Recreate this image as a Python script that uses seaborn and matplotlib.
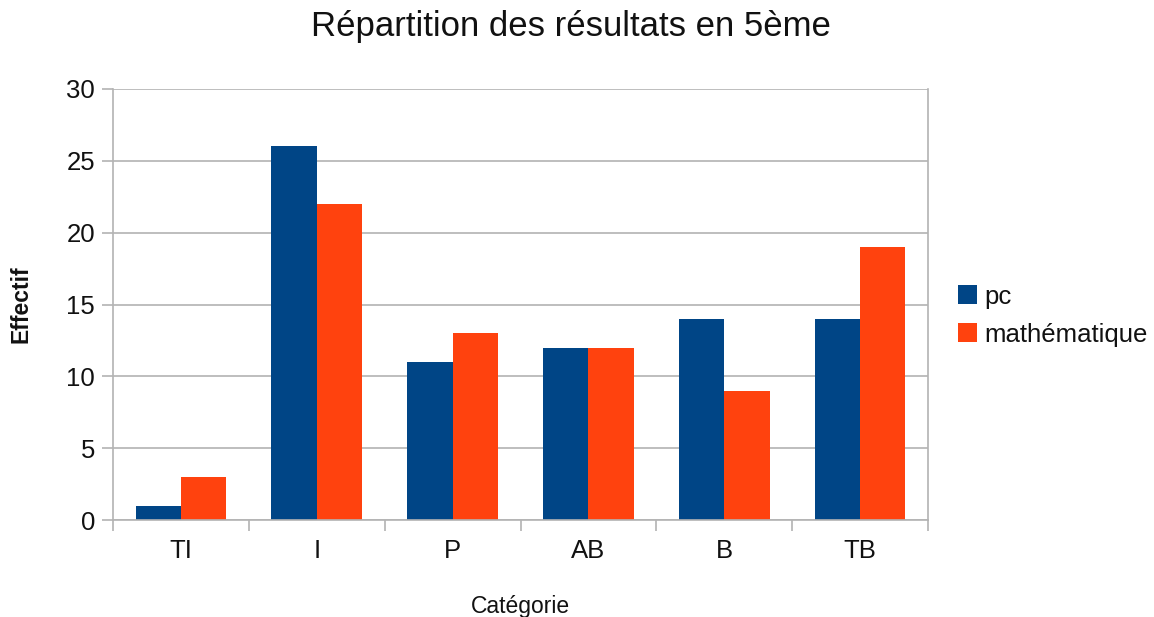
import matplotlib.pyplot as plt
import pandas as pd
import seaborn as sns
from matplotlib.ticker import FixedLocator

categories = ["TI", "I", "P", "AB", "B", "TB"]
pc = [1, 26, 11, 12, 14, 14]
maths = [3, 22, 13, 12, 9, 19]
series_names = ["pc", "mathématique"]
colors = ["#004586", "#ff420e"]

df = pd.DataFrame({
    "Catégorie": categories * 2,
    "Effectif": pc + maths,
    "série": [series_names[0]] * len(categories) + [series_names[1]] * len(categories),
})

sns.set_theme(style="white")
plt.rcParams["font.family"] = ["Liberation Sans", "DejaVu Sans"]

fig = plt.figure(figsize=(11.54, 6.17), dpi=100)
ax = fig.add_axes([113 / 1154, 1 - 520 / 617, (928 - 113) / 1154, (520 - 89) / 617])

sns.barplot(data=df, x="Catégorie", y="Effectif", hue="série", palette=colors,
            width=2 / 3, saturation=1, ax=ax, gap=0, linewidth=0)

ax.set_xlim(-0.5, len(categories) - 0.5)
ax.set_ylim(0, 30)
ax.set_yticks(range(0, 31, 5))
ax.yaxis.grid(True, color="#b3b3b3", linewidth=1.2)
ax.set_axisbelow(True)
for side in ["left", "right", "bottom"]:
    ax.spines[side].set_color("#b3b3b3")
    ax.spines[side].set_linewidth(1.2)
ax.spines["top"].set_visible(False)

ax.tick_params(axis="y", which="major", length=8, width=1.2, color="#b3b3b3",
               labelsize=18.5, pad=5, left=True, labelcolor="#111111")
ax.tick_params(axis="x", which="major", length=0, labelsize=18.5, pad=14, labelcolor="#111111")
ax.xaxis.set_minor_locator(FixedLocator([i - 0.5 for i in range(len(categories) + 1)]))
ax.tick_params(axis="x", which="minor", length=8, width=1.2, color="#b3b3b3", bottom=True)

ax.set_xlabel("Catégorie", fontsize=16.5, labelpad=23, color="#111111")
ax.set_ylabel("Effectif", fontsize=16.5, labelpad=24, fontweight="bold", color="#111111")
ax.set_title("Répartition des résultats en 5ème", fontsize=25, pad=38, x=0.562, color="#111111")

ax.legend(title=None, loc="center left", bbox_to_anchor=(1.008, 0.474), frameon=False,
          fontsize=18.5, handlelength=0.75, handleheight=0.75, handletextpad=0.3,
          labelspacing=0.55, labelcolor="#111111")

fig.savefig("out.png", dpi=100)
